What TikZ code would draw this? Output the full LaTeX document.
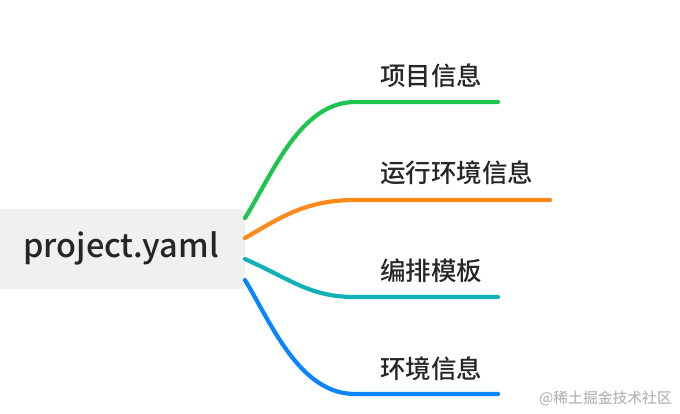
\documentclass[tikz,border=0pt]{standalone}
\usepackage{fontspec}
\setmainfont{Noto Sans CJK SC}[UprightFont=* Medium]
\definecolor{cgreen}{HTML}{1DC44E}
\definecolor{corange}{HTML}{FF8A1A}
\definecolor{cteal}{HTML}{14B0B8}
\definecolor{cblue}{HTML}{0A84FF}
\definecolor{boxgray}{HTML}{F0F0F0}
\definecolor{txt}{HTML}{262626}
\begin{document}
\begin{tikzpicture}[x=1pt,y=-1pt,
  branch/.style={line width=4.2pt,line cap=round},
  leaf/.style={anchor=west,inner sep=0pt,text=txt,font=\fontsize{25.5}{28}\selectfont},
  rootbox/.style={fill=boxgray,rounded corners=5pt,inner sep=0pt,minimum width=255pt,minimum height=80pt,anchor=east}]
\useasboundingbox (0,0) rectangle (680,414);
\clip (0,0) rectangle (680,414);
\node[rootbox] (root) at (245,249) {};
\node[inner sep=0pt,text=txt,font=\fontsize{32.5}{36}\selectfont] (roottext) at (121,248) {project.yaml};
\coordinate (s1) at (245,218);
\coordinate (s2) at (245,238);
\coordinate (s3) at (245,259);
\coordinate (s4) at (245,280);
\coordinate (e1) at (498,102);
\coordinate (e2) at (550,200);
\coordinate (e3) at (498,297);
\coordinate (e4) at (498,394);
\draw[branch,cgreen] (s1) .. controls (272,175) and (300,102) .. (355,102) -- (e1);
\draw[branch,corange] (s2) .. controls (280,218) and (305,200) .. (355,200) -- (e2);
\draw[branch,cteal] (s3) .. controls (292,280) and (310,297) .. (355,297) -- (e3);
\draw[branch,cblue] (s4) .. controls (272,325) and (300,394) .. (355,394) -- (e4);
\node[leaf] (l1) at (380,76) {项目信息};
\node[leaf] (l2) at (380,173) {运行环境信息};
\node[leaf] (l3) at (380,271) {编排模板};
\node[leaf] (l4) at (380,369) {环境信息};
\node[anchor=east,inner sep=0pt,text=black!28,font=\fontsize{14.8}{17}\selectfont] (wm) at (672,399) {@稀土掘金技术社区};
\end{tikzpicture}
\end{document}
